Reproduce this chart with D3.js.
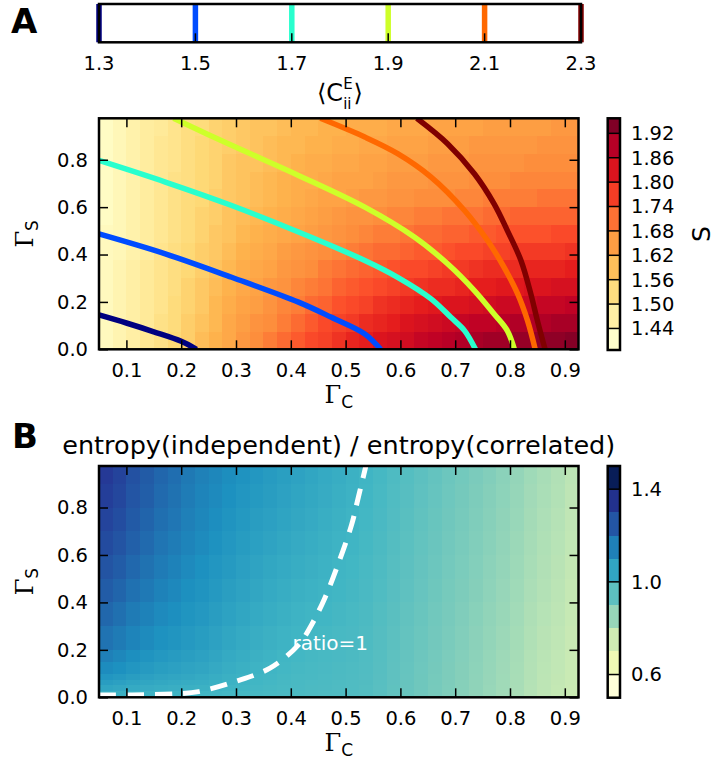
<!DOCTYPE html>

<head>
  <meta charset="UTF-8">

  <style>
    *{
      margin: 0px;
    }

    body{
      background-color: white;
    }

    svg{
      display: block;
      font-family: "DejaVu Sans";
    }
  </style>

  <script src="https://d3js.org/d3.v7.min.js"></script>
</head>

<body>
  <svg id="chart" width="715" height="774"></svg>

  <script>
    // ---- data ----
    // cell edges along Gamma_C (shared by both panels)
    var gammaCEdges = [0.05, 0.075, 0.1, 0.125, 0.15, 0.175, 0.2, 0.225, 0.25, 0.275, 0.3, 0.325,
      0.35, 0.375, 0.4, 0.425, 0.45, 0.475, 0.5, 0.525, 0.55, 0.575, 0.6, 0.625, 0.65, 0.675,
      0.7, 0.725, 0.75, 0.775, 0.8, 0.825, 0.85, 0.875, 0.9, 0.925];

    // panel A: entropy S, rows from Gamma_S = 0 upwards
    var gammaSEdgesA = [0, 0.075, 0.15, 0.225, 0.3, 0.375, 0.45, 0.525, 0.6, 0.675, 0.75, 0.825, 0.9, 0.975];
    var entropyA = [
      [1.41,1.43,1.45,1.48,1.50,1.53,1.55,1.58,1.60,1.62,1.65,1.67,1.69,1.71,1.73,1.75,1.76,1.78,1.80,1.81,1.83,1.84,1.85,1.87,1.88,1.89,1.90,1.91,1.92,1.92,1.93,1.93,1.94,1.94,1.95],
      [1.41,1.43,1.45,1.47,1.50,1.52,1.55,1.57,1.59,1.62,1.64,1.66,1.67,1.69,1.71,1.73,1.75,1.76,1.77,1.79,1.80,1.81,1.83,1.84,1.85,1.86,1.87,1.88,1.88,1.89,1.90,1.90,1.90,1.91,1.91],
      [1.41,1.43,1.45,1.47,1.49,1.52,1.54,1.56,1.59,1.61,1.63,1.64,1.66,1.68,1.69,1.71,1.72,1.74,1.75,1.76,1.78,1.79,1.80,1.81,1.82,1.83,1.83,1.84,1.85,1.86,1.86,1.86,1.87,1.87,1.88],
      [1.41,1.43,1.45,1.47,1.49,1.51,1.54,1.56,1.58,1.60,1.62,1.63,1.65,1.66,1.68,1.69,1.70,1.72,1.73,1.74,1.75,1.76,1.77,1.78,1.79,1.79,1.80,1.81,1.81,1.82,1.82,1.83,1.83,1.84,1.84],
      [1.41,1.43,1.45,1.47,1.49,1.51,1.53,1.55,1.57,1.59,1.61,1.62,1.63,1.65,1.66,1.67,1.69,1.70,1.71,1.72,1.73,1.74,1.75,1.75,1.76,1.77,1.77,1.78,1.79,1.79,1.79,1.80,1.80,1.80,1.81],
      [1.41,1.42,1.44,1.46,1.49,1.51,1.53,1.55,1.56,1.58,1.60,1.61,1.62,1.64,1.65,1.66,1.67,1.68,1.69,1.70,1.71,1.71,1.72,1.73,1.73,1.74,1.75,1.75,1.76,1.76,1.77,1.77,1.77,1.77,1.78],
      [1.41,1.42,1.44,1.46,1.48,1.50,1.52,1.54,1.56,1.57,1.59,1.60,1.61,1.62,1.63,1.64,1.65,1.66,1.67,1.68,1.69,1.69,1.70,1.71,1.71,1.72,1.72,1.73,1.73,1.74,1.74,1.74,1.74,1.75,1.75],
      [1.40,1.42,1.44,1.46,1.48,1.50,1.52,1.54,1.55,1.57,1.58,1.59,1.60,1.61,1.62,1.63,1.64,1.65,1.66,1.66,1.67,1.68,1.68,1.69,1.69,1.70,1.70,1.70,1.71,1.71,1.72,1.72,1.72,1.72,1.72],
      [1.40,1.42,1.44,1.46,1.48,1.50,1.52,1.53,1.55,1.56,1.57,1.58,1.59,1.60,1.61,1.62,1.63,1.63,1.64,1.65,1.65,1.66,1.66,1.67,1.67,1.67,1.68,1.68,1.69,1.69,1.69,1.69,1.70,1.70,1.70],
      [1.40,1.42,1.44,1.46,1.48,1.50,1.51,1.53,1.54,1.56,1.57,1.58,1.59,1.60,1.61,1.61,1.62,1.63,1.63,1.63,1.64,1.65,1.65,1.65,1.66,1.66,1.66,1.67,1.67,1.67,1.68,1.68,1.68,1.68,1.68],
      [1.40,1.42,1.44,1.46,1.48,1.49,1.51,1.53,1.54,1.56,1.57,1.57,1.58,1.59,1.60,1.61,1.61,1.62,1.62,1.63,1.63,1.64,1.64,1.64,1.65,1.65,1.65,1.66,1.66,1.66,1.66,1.67,1.67,1.67,1.67],
      [1.40,1.42,1.44,1.46,1.48,1.49,1.51,1.53,1.54,1.55,1.56,1.57,1.58,1.59,1.59,1.60,1.60,1.61,1.61,1.62,1.62,1.63,1.63,1.63,1.64,1.64,1.64,1.65,1.65,1.65,1.65,1.65,1.66,1.66,1.66],
      [1.40,1.42,1.44,1.46,1.47,1.49,1.51,1.52,1.54,1.55,1.56,1.57,1.57,1.58,1.59,1.59,1.60,1.60,1.61,1.61,1.61,1.62,1.62,1.62,1.63,1.63,1.63,1.63,1.64,1.64,1.64,1.64,1.64,1.65,1.65]
    ];

    // panel A: contour lines of <C_ii^E>, points as [Gamma_C, Gamma_S]
    var contourLevels = [1.3, 1.5, 1.7, 1.9, 2.1, 2.3];
    var contourColors = ["#000080", "#004cff", "#29ffce", "#ceff29", "#ff6800", "#800000"];
    var contour13 = [[0.05,0.145],[0.1,0.111],[0.15,0.074],[0.2,0.034],[0.228,0.0]];
    var contour15 = [[0.05,0.487],[0.171,0.403],[0.292,0.304],[0.414,0.199],[0.474,0.135],[0.535,0.065],[0.564,0.0]];
    var contour17 = [[0.05,0.797],[0.171,0.706],[0.292,0.607],[0.414,0.495],[0.535,0.375],[0.595,0.304],[0.656,0.213],[0.692,0.135],[0.717,0.079],[0.737,0.0]];
    var contour19 = [[0.186,0.975],[0.292,0.861],[0.414,0.734],[0.535,0.6],[0.626,0.473],[0.686,0.361],[0.735,0.248],[0.771,0.149],[0.795,0.079],[0.808,0.0]];
    var contour21 = [[0.454,0.975],[0.535,0.896],[0.595,0.826],[0.656,0.727],[0.717,0.586],[0.759,0.459],[0.789,0.347],[0.814,0.234],[0.832,0.121],[0.846,0.0]];
    var contour23 = [[0.63,0.975],[0.686,0.868],[0.735,0.741],[0.771,0.614],[0.795,0.502],[0.82,0.375],[0.838,0.234],[0.85,0.121],[0.864,0.0]];
    var contourLines = [contour13, contour15, contour17, contour19, contour21, contour23];

    var entropyBands = [1.387, 1.44, 1.50, 1.56, 1.62, 1.68, 1.74, 1.80, 1.86, 1.92, 1.957];
    var entropyTicks = [1.44, 1.50, 1.56, 1.62, 1.68, 1.74, 1.80, 1.86, 1.92];

    // panel B: entropy ratio, rows from Gamma_S = 0 upwards
    var gammaSEdgesB = [0, 0.025, 0.05, 0.075, 0.1, 0.15, 0.2, 0.3, 0.4, 0.5, 0.6, 0.7, 0.8, 0.9, 0.975];
    var ratioB = [
      [1.025,1.020,1.015,1.012,1.009,1.006,1.004,1.001,0.998,0.994,0.991,0.987,0.985,0.982,0.979,0.976,0.974,0.971,0.968,0.963,0.951,0.936,0.921,0.906,0.891,0.876,0.861,0.846,0.831,0.816,0.801,0.781,0.766,0.755,0.740],
      [1.058,1.050,1.041,1.036,1.030,1.026,1.021,1.017,1.011,1.004,0.999,0.994,0.990,0.985,0.982,0.978,0.976,0.972,0.969,0.964,0.952,0.937,0.922,0.907,0.892,0.877,0.862,0.847,0.832,0.817,0.802,0.782,0.767,0.756,0.741],
      [1.083,1.074,1.062,1.054,1.047,1.041,1.035,1.030,1.021,1.013,1.006,0.999,0.994,0.988,0.984,0.980,0.978,0.974,0.970,0.965,0.953,0.938,0.923,0.908,0.893,0.878,0.863,0.848,0.833,0.818,0.803,0.783,0.768,0.757,0.742],
      [1.108,1.097,1.083,1.073,1.063,1.057,1.049,1.042,1.032,1.021,1.013,1.005,0.998,0.991,0.986,0.983,0.980,0.976,0.972,0.966,0.954,0.939,0.924,0.909,0.894,0.879,0.864,0.849,0.834,0.819,0.804,0.784,0.769,0.758,0.743],
      [1.137,1.124,1.107,1.094,1.082,1.074,1.064,1.056,1.043,1.031,1.021,1.011,1.004,0.996,0.990,0.986,0.982,0.978,0.974,0.968,0.955,0.940,0.925,0.910,0.895,0.880,0.865,0.850,0.835,0.820,0.805,0.785,0.770,0.760,0.744],
      [1.166,1.150,1.130,1.116,1.101,1.092,1.080,1.070,1.056,1.042,1.030,1.019,1.010,1.001,0.995,0.990,0.986,0.981,0.977,0.970,0.957,0.942,0.927,0.912,0.897,0.882,0.867,0.852,0.837,0.822,0.807,0.787,0.772,0.761,0.745],
      [1.198,1.180,1.157,1.140,1.123,1.111,1.097,1.086,1.070,1.055,1.041,1.029,1.019,1.009,1.002,0.996,0.991,0.986,0.981,0.973,0.960,0.945,0.930,0.915,0.900,0.885,0.870,0.855,0.840,0.825,0.810,0.790,0.775,0.764,0.748],
      [1.227,1.207,1.180,1.161,1.142,1.129,1.113,1.100,1.083,1.068,1.054,1.041,1.030,1.020,1.011,1.005,0.999,0.992,0.986,0.977,0.964,0.949,0.934,0.919,0.904,0.889,0.874,0.859,0.844,0.829,0.814,0.794,0.779,0.768,0.751],
      [1.256,1.233,1.204,1.183,1.161,1.147,1.128,1.114,1.097,1.081,1.066,1.053,1.041,1.030,1.021,1.013,1.006,0.999,0.992,0.982,0.969,0.954,0.939,0.924,0.909,0.894,0.879,0.864,0.849,0.834,0.819,0.799,0.784,0.771,0.754],
      [1.281,1.257,1.225,1.201,1.178,1.162,1.142,1.126,1.109,1.093,1.077,1.064,1.052,1.040,1.030,1.022,1.014,1.005,0.997,0.986,0.973,0.958,0.943,0.928,0.913,0.898,0.883,0.868,0.853,0.838,0.823,0.803,0.788,0.775,0.757],
      [1.306,1.280,1.246,1.220,1.194,1.177,1.156,1.139,1.121,1.104,1.089,1.075,1.063,1.051,1.039,1.030,1.021,1.011,1.002,0.991,0.977,0.962,0.947,0.932,0.917,0.902,0.887,0.872,0.857,0.842,0.827,0.807,0.792,0.778,0.760],
      [1.328,1.300,1.263,1.236,1.209,1.190,1.167,1.149,1.132,1.115,1.099,1.085,1.073,1.061,1.049,1.039,1.028,1.018,1.008,0.995,0.981,0.966,0.951,0.936,0.921,0.906,0.891,0.876,0.861,0.846,0.831,0.811,0.796,0.782,0.763],
      [1.346,1.317,1.278,1.249,1.220,1.201,1.177,1.158,1.141,1.125,1.109,1.096,1.083,1.071,1.058,1.047,1.036,1.024,1.013,1.000,0.985,0.970,0.955,0.940,0.925,0.910,0.895,0.880,0.865,0.850,0.835,0.815,0.800,0.786,0.766],
      [1.360,1.330,1.290,1.260,1.230,1.210,1.185,1.165,1.149,1.133,1.118,1.104,1.092,1.079,1.066,1.055,1.042,1.030,1.018,1.003,0.989,0.974,0.959,0.944,0.929,0.914,0.899,0.884,0.869,0.854,0.839,0.819,0.804,0.789,0.769]
    ];

    // panel B: ratio = 1 contour
    var ratioOne = [[0.05,0.01],[0.111,0.01],[0.195,0.015],[0.232,0.024],[0.298,0.066],[0.362,0.123],
      [0.414,0.221],[0.438,0.306],[0.462,0.418],[0.486,0.559],[0.511,0.728],[0.523,0.841],[0.537,0.975]];
    var ratioLabel = [0.472, 0.228];

    var ratioBands = [0.5, 0.6, 0.7, 0.8, 0.9, 1.0, 1.1, 1.2, 1.3, 1.4, 1.5];
    var ratioTicks = [0.6, 1.0, 1.4];

    var gammaCTicks = [0.1, 0.2, 0.3, 0.4, 0.5, 0.6, 0.7, 0.8, 0.9];
    var gammaSTicks = [0.0, 0.2, 0.4, 0.6, 0.8];

    // ---- layout ----
    var svg = d3.select("#chart");
    var left = 99, right = 578.5;
    var cbX = 607.7, cbW = 12.3;
    var tickFont = 19.5;

    var x = d3.scaleLinear().domain([0.05, 0.925]).range([left, right]);
    var yA = d3.scaleLinear().domain([0, 0.975]).range([349.3, 118.3]);
    var yB = d3.scaleLinear().domain([0, 0.975]).range([697.3, 466]);

    function ramp(scheme, lo, hi){
      return d3.scaleLinear()
        .domain(scheme.map((c, i) => lo + i * (hi - lo) / (scheme.length - 1)))
        .range(scheme)
        .clamp(true);
    }

    var colorA = ramp(d3.schemeYlOrRd[9], 1.387, 1.957);
    var colorB = ramp(d3.schemeYlGnBu[9], 0.5, 1.5);

    var defs = svg.append("defs");
    function clip(id, y){
      defs.append("clipPath").attr("id", id)
        .append("rect")
        .attr("x", left).attr("y", y.range()[1])
        .attr("width", right - left).attr("height", y.range()[0] - y.range()[1]);
    }
    clip("clipA", yA);
    clip("clipB", yB);

    function heatmap(y, rowEdges, rows, color){
      var g = svg.append("g");
      rows.forEach(function(row, j){
        g.selectAll(null)
          .data(row)
          .enter()
          .append("rect")
          .attr("x", (d, i) => x(gammaCEdges[i]))
          .attr("width", (d, i) => x(gammaCEdges[i + 1]) - x(gammaCEdges[i]))
          .attr("y", y(rowEdges[j + 1]))
          .attr("height", y(rowEdges[j]) - y(rowEdges[j + 1]))
          .attr("fill", d => color(d))
          .attr("shape-rendering", "crispEdges");
      });
    }

    function styleAxis(a){
      a.attr("font-family", null).attr("font-size", tickFont);
      a.select(".domain").remove();
      a.selectAll(".tick line").attr("stroke-width", 1.5);
    }

    function frame(y){
      var g = svg.append("g");
      g.append("g")
        .attr("transform", "translate(0," + y.range()[0] + ")")
        .call(d3.axisBottom(x).tickValues(gammaCTicks).tickSizeInner(-9).tickSizeOuter(0)
          .tickPadding(14).tickFormat(d3.format(".1f")))
        .call(styleAxis);
      g.append("g")
        .attr("transform", "translate(0," + y.range()[1] + ")")
        .call(d3.axisTop(x).tickValues(gammaCTicks).tickSizeInner(-9).tickSizeOuter(0).tickFormat(""))
        .call(styleAxis);
      g.append("g")
        .attr("transform", "translate(" + left + ",0)")
        .call(d3.axisLeft(y).tickValues(gammaSTicks).tickSizeInner(-9).tickSizeOuter(0)
          .tickPadding(11).tickFormat(d3.format(".1f")))
        .call(styleAxis);
      g.append("g")
        .attr("transform", "translate(" + right + ",0)")
        .call(d3.axisRight(y).tickValues(gammaSTicks).tickSizeInner(-9).tickSizeOuter(0).tickFormat(""))
        .call(styleAxis);
      g.append("rect")
        .attr("x", left).attr("y", y.range()[1])
        .attr("width", right - left).attr("height", y.range()[0] - y.range()[1])
        .attr("fill", "none").attr("stroke", "black").attr("stroke-width", 2.5);

      // Gamma_C and Gamma_S labels
      var xl = g.append("text")
        .attr("x", (left + right) / 2).attr("y", y.range()[0] + 54)
        .attr("text-anchor", "middle").attr("font-size", 24);
      xl.append("tspan").attr("font-family", "DejaVu Serif").text("Γ");
      xl.append("tspan").attr("font-size", 17).attr("dy", 5).text("C");

      var yl = g.append("text")
        .attr("transform", "translate(33," + (y.range()[0] + y.range()[1]) / 2 + ") rotate(-90)")
        .attr("text-anchor", "middle").attr("font-size", 24);
      yl.append("tspan").attr("font-family", "DejaVu Serif").text("Γ");
      yl.append("tspan").attr("font-size", 17).attr("dy", 5).text("S");
    }

    function colorbar(top, bottom, edges, scheme, ticks, fmt){
      var v = d3.scaleLinear().domain([edges[0], edges[edges.length - 1]]).range([bottom, top]);
      var pick = ramp(scheme, 0, 1);
      var g = svg.append("g");
      g.selectAll("rect.band")
        .data(edges.slice(0, -1))
        .enter()
        .append("rect")
        .attr("class", "band")
        .attr("x", cbX).attr("width", cbW)
        .attr("y", (d, i) => v(edges[i + 1]))
        .attr("height", (d, i) => v(edges[i]) - v(edges[i + 1]))
        .attr("fill", (d, i) => pick(i / (edges.length - 2)))
        .attr("shape-rendering", "crispEdges");
      g.selectAll("line")
        .data(ticks)
        .enter()
        .append("line")
        .attr("x1", cbX).attr("x2", cbX + cbW)
        .attr("y1", d => v(d)).attr("y2", d => v(d))
        .attr("stroke", "black").attr("stroke-width", 1.5);
      g.selectAll("text")
        .data(ticks)
        .enter()
        .append("text")
        .attr("x", cbX + cbW + 11).attr("y", d => v(d))
        .attr("dy", "0.35em").attr("font-size", tickFont)
        .text(fmt);
      g.append("rect")
        .attr("x", cbX).attr("y", top)
        .attr("width", cbW).attr("height", bottom - top)
        .attr("fill", "none").attr("stroke", "black").attr("stroke-width", 2.5);
    }

    // ---- top: <C_ii^E> key ----
    var keyTop = 4, keyBottom = 42.3;
    var key = d3.scaleLinear().domain([1.3, 2.3]).range([99, 581]);
    var kg = svg.append("g");
    kg.append("rect")
      .attr("x", key.range()[0]).attr("y", keyTop)
      .attr("width", key.range()[1] - key.range()[0]).attr("height", keyBottom - keyTop)
      .attr("fill", "white");
    kg.selectAll("line.level")
      .data(contourLevels)
      .enter()
      .append("line")
      .attr("x1", d => key(d)).attr("x2", d => key(d))
      .attr("y1", keyTop).attr("y2", keyBottom)
      .attr("stroke", (d, i) => contourColors[i]).attr("stroke-width", 5.5);
    kg.selectAll("line.tick")
      .data(contourLevels)
      .enter()
      .append("line")
      .attr("x1", d => key(d)).attr("x2", d => key(d))
      .attr("y1", keyBottom).attr("y2", keyBottom - 9)
      .attr("stroke", "black").attr("stroke-width", 1.5);
    kg.append("rect")
      .attr("x", key.range()[0]).attr("y", keyTop)
      .attr("width", key.range()[1] - key.range()[0]).attr("height", keyBottom - keyTop)
      .attr("fill", "none").attr("stroke", "black").attr("stroke-width", 2.5);
    kg.selectAll("text")
      .data(contourLevels)
      .enter()
      .append("text")
      .attr("x", d => key(d)).attr("y", 70)
      .attr("text-anchor", "middle").attr("font-size", tickFont)
      .text(d3.format(".1f"));

    // <C_ii^E>: superscript and subscript stacked at the same x
    var cl = svg.append("g");
    var clBase = cl.append("text").attr("y", 101).attr("font-size", 24).text("⟨C");
    var cw = clBase.node().getComputedTextLength();
    var sup = cl.append("text").attr("x", cw).attr("y", 89).attr("font-size", 15).text("E");
    var sub = cl.append("text").attr("x", cw).attr("y", 109).attr("font-size", 15).text("ii");
    var sw = Math.max(sup.node().getComputedTextLength(), sub.node().getComputedTextLength());
    var close = cl.append("text").attr("x", cw + sw + 1).attr("y", 101).attr("font-size", 24).text("⟩");
    var clw = cw + sw + 1 + close.node().getComputedTextLength();
    cl.attr("transform", "translate(" + ((key.range()[0] + key.range()[1]) / 2 - clw / 2) + ",0)");

    // ---- panel A ----
    heatmap(yA, gammaSEdgesA, entropyA, colorA);

    var lineA = d3.line().x(d => x(d[0])).y(d => yA(d[1])).curve(d3.curveCatmullRom.alpha(0.5));
    svg.append("g")
      .attr("clip-path", "url(#clipA)")
      .selectAll("path")
      .data(contourLines)
      .enter()
      .append("path")
      .attr("d", lineA)
      .attr("fill", "none")
      .attr("stroke", (d, i) => contourColors[i])
      .attr("stroke-width", 5.5);

    frame(yA);
    colorbar(118.3, 350, entropyBands, d3.schemeYlOrRd[9], entropyTicks, d3.format(".2f"));

    svg.append("text")
      .attr("transform", "translate(710,234) rotate(-90)")
      .attr("text-anchor", "middle").attr("font-size", 25)
      .text("S");

    // ---- panel B ----
    heatmap(yB, gammaSEdgesB, ratioB, colorB);

    var lineB = d3.line().x(d => x(d[0])).y(d => yB(d[1])).curve(d3.curveCatmullRom.alpha(0.5));
    svg.append("path")
      .attr("clip-path", "url(#clipB)")
      .attr("d", lineB(ratioOne))
      .attr("fill", "none")
      .attr("stroke", "white")
      .attr("stroke-width", 5)
      .attr("stroke-dasharray", "17,11");

    svg.append("text")
      .attr("x", x(ratioLabel[0])).attr("y", yB(ratioLabel[1]))
      .attr("dy", "0.35em")
      .attr("text-anchor", "middle").attr("font-size", 20)
      .attr("fill", "white")
      .text("ratio=1");

    frame(yB);
    colorbar(466, 697.7, ratioBands, d3.schemeYlGnBu[9], ratioTicks, d3.format(".1f"));

    svg.append("text")
      .attr("x", (left + right) / 2).attr("y", 454)
      .attr("text-anchor", "middle").attr("font-size", 25.5)
      .text("entropy(independent) / entropy(correlated)");

    // panel letters
    svg.append("text").attr("x", 11).attr("y", 33)
      .attr("font-size", 34).attr("font-weight", "bold").text("A");
    svg.append("text").attr("x", 12).attr("y", 448)
      .attr("font-size", 34).attr("font-weight", "bold").text("B");
  </script>
</body>
